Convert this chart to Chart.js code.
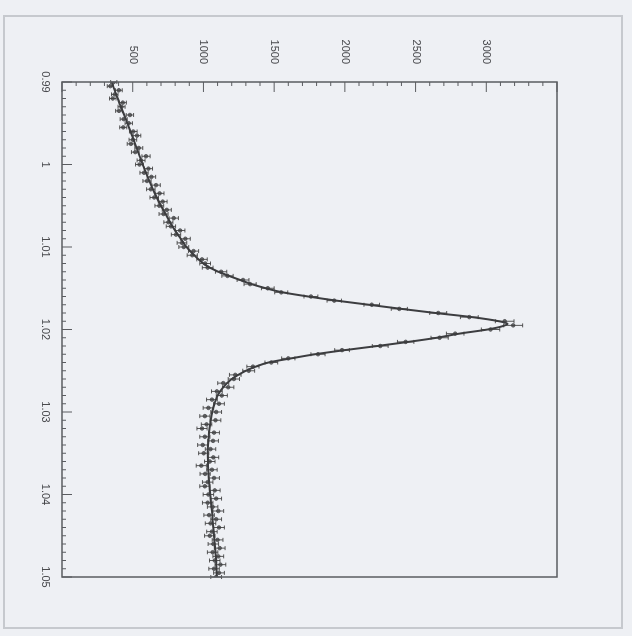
<!DOCTYPE html>
<html>
<head>
<meta charset="utf-8">
<script src="https://cdn.jsdelivr.net/npm/chart.js@4/dist/chart.umd.min.js"></script>
<style>
  html, body { margin: 0; padding: 0; background: #eef0f4; width: 632px; height: 636px; overflow: hidden; }
  #frame { position: absolute; left: 3px; top: 15px; width: 616px; height: 610px; border: 2px solid #c6c9ce; }
  #wrap { position: absolute; left: -2px; top: 2px; width: 636px; height: 632px; transform: rotate(90deg); transform-origin: 50% 50%; }
  canvas { display: block; }
</style>
</head>
<body>
<div id="frame"></div>
<div id="wrap"><canvas id="c" width="636" height="632"></canvas></div>
<script>
// measured points (x = parameter, y = counts), with error bars
const xVals = [
  0.9900,0.9905,0.9910,0.9915,0.9920,0.9925,0.9930,0.9935,0.9940,0.9945,
  0.9950,0.9955,0.9960,0.9965,0.9970,0.9975,0.9980,0.9985,0.9990,0.9995,
  1.0000,1.0005,1.0010,1.0015,1.0020,1.0025,1.0030,1.0035,1.0040,1.0045,
  1.0050,1.0055,1.0060,1.0065,1.0070,1.0075,1.0080,1.0085,1.0090,1.0095,
  1.0100,1.0105,1.0110,1.0115,1.0120,1.0125,1.0130,1.0135,1.0140,1.0145,
  1.0150,1.0155,1.0160,1.0165,1.0170,1.0175,1.0180,1.0185,1.0190,1.0195,
  1.0200,1.0205,1.0210,1.0215,1.0220,1.0225,1.0230,1.0235,1.0240,1.0245,
  1.0250,1.0255,1.0260,1.0265,1.0270,1.0275,1.0280,1.0285,1.0290,1.0295,
  1.0300,1.0305,1.0310,1.0315,1.0320,1.0325,1.0330,1.0335,1.0340,1.0345,
  1.0350,1.0355,1.0360,1.0365,1.0370,1.0375,1.0380,1.0385,1.0390,1.0395,
  1.0400,1.0405,1.0410,1.0415,1.0420,1.0425,1.0430,1.0435,1.0440,1.0445,
  1.0450,1.0455,1.0460,1.0465,1.0470,1.0475,1.0480,1.0485,1.0490,1.0495,
  1.0500
];
const yVals = [
  366,342,402,373,359,430,421,403,480,436,
  472,433,504,530,501,487,543,518,594,559,
  548,611,580,632,601,665,628,690,652,712,
  688,741,718,790,752,770,835,806,872,848,
  861,930,921,990,1012,1030,1125,1170,1280,1330,
  1455,1550,1760,1925,2190,2385,2660,2880,3130,3190,
  3030,2780,2670,2430,2250,1980,1810,1600,1480,1350,
  1320,1225,1215,1140,1175,1095,1130,1060,1110,1035,
  1090,1010,1085,1022,990,1075,1010,1068,995,1050,
  1002,1070,1045,985,1060,1012,1075,1030,1010,1080,
  1035,1090,1030,1065,1105,1040,1090,1050,1110,1060,
  1045,1100,1070,1115,1065,1105,1080,1120,1075,1110,
  1090
];
const yErr = [
  22,22,24,23,23,25,25,24,26,25,
  26,25,27,27,27,26,28,27,29,28,
  28,29,29,30,29,30,30,31,30,31,
  31,32,32,33,32,33,34,33,35,34,
  35,36,36,37,38,38,40,40,42,43,
  45,46,49,51,55,57,60,63,66,67,
  65,62,61,58,56,52,50,47,45,43,
  42,41,40,39,40,38,39,38,38,37,
  38,36,38,37,36,38,36,38,36,37,
  36,38,37,36,37,36,38,37,36,38,
  37,38,37,37,38,37,38,37,38,37,
  37,38,37,38,37,38,37,38,37,38,
  38
];
// fitted curve
const fitX = [
  0.990,0.991,0.992,0.993,0.994,0.995,0.996,0.997,0.998,0.999,
  1.000,1.001,1.002,1.003,1.004,1.005,1.006,1.007,1.008,1.009,
  1.010,1.011,1.012,1.0125,1.013,1.0135,1.014,1.0145,1.015,1.0155,
  1.016,1.0165,1.017,1.0175,1.018,1.0185,1.019,1.0193,1.0196,1.0200,
  1.0205,1.0210,1.0215,1.0220,1.0225,1.0230,1.0235,1.0240,1.0245,1.0250,
  1.0260,1.0270,1.0280,1.0290,1.0300,1.0310,1.0320,1.0330,1.0340,1.0350,
  1.0360,1.0370,1.0380,1.0390,1.0400,1.0410,1.0420,1.0430,1.0440,1.0450,
  1.0460,1.0470,1.0480,1.0490,1.0500
];
const fitY = [
  351,372,394,416,440,462,484,506,528,549,
  570,594,618,643,670,700,732,765,800,840,
  880,935,1000,1045,1105,1180,1260,1340,1440,1560,
  1740,1940,2170,2400,2640,2900,3090,3150,3115,3010,
  2810,2650,2450,2230,2000,1790,1620,1460,1370,1300,
  1200,1140,1100,1078,1062,1051,1043,1037,1033,1031,
  1032,1034,1038,1043,1048,1054,1060,1065,1070,1075,
  1080,1085,1090,1093,1095
];
const xTickLabels = ['0.99','1','1.01','1.02','1.03','1.04','1.05'];
const yTickLabels = ['', '500','1000','1500','2000','2500','3000',''];

const AXIS_COLOR = '#5a5c60';

const framePlugin = {
  id: 'framePlugin',
  afterDatasetsDraw(chart) {
    const ctx = chart.ctx;
    const xs = chart.scales.x, ys = chart.scales.y;
    const ds = chart.data.datasets[1].data;
    ctx.save();
    // error bars
    ctx.strokeStyle = 'rgba(60,60,60,0.85)';
    ctx.lineWidth = 1;
    ctx.beginPath();
    for (let i = 0; i < ds.length; i++) {
      const px = xs.getPixelForValue(ds[i].x);
      const p1 = ys.getPixelForValue(ds[i].y - yErr[i]);
      const p2 = ys.getPixelForValue(ds[i].y + yErr[i]);
      ctx.moveTo(px, p1); ctx.lineTo(px, p2);
      ctx.moveTo(px - 2, p1); ctx.lineTo(px + 2, p1);
      ctx.moveTo(px - 2, p2); ctx.lineTo(px + 2, p2);
    }
    ctx.stroke();
    // plot frame
    const a = chart.chartArea;
    ctx.strokeStyle = AXIS_COLOR;
    ctx.lineWidth = 1.5;
    ctx.strokeRect(a.left, a.top, a.right - a.left, a.bottom - a.top);
    // inward ticks on x axis (bottom)
    ctx.lineWidth = 1;
    ctx.beginPath();
    for (let i = 0; i <= 60; i++) {
      const px = xs.getPixelForValue(xs.min + (xs.max - xs.min) * i / 60);
      const len = (i % 10 === 0) ? 10 : 4;
      ctx.moveTo(px, a.bottom); ctx.lineTo(px, a.bottom - len);
    }
    // inward ticks on y axis (left)
    for (let i = 0; i <= 35; i++) {
      const py = ys.getPixelForValue(ys.min + (ys.max - ys.min) * i / 35);
      const len = (i % 5 === 0) ? 10 : 4;
      ctx.moveTo(a.left, py); ctx.lineTo(a.left + len, py);
    }
    ctx.stroke();
    ctx.restore();
  }
};

new Chart(document.getElementById('c'), {
  data: {
    datasets: [
      {
        type: 'line',
        data: fitX.map((x, i) => ({ x: x, y: fitY[i] })),
        borderColor: '#3c3d40',
        borderWidth: 2,
        pointRadius: 0,
        cubicInterpolationMode: 'monotone',
        fill: false,
        order: 0
      },
      {
        type: 'scatter',
        data: xVals.map((x, i) => ({ x: x, y: yVals[i] })),
        pointRadius: 1.8,
        pointBackgroundColor: '#6a6b6e',
        pointBorderColor: '#4a4b4e',
        pointBorderWidth: 0.8,
        order: 1
      }
    ]
  },
  options: {
    responsive: false,
    animation: false,
    devicePixelRatio: 1,
    layout: { padding: { top: 75, right: 59, left: 0, bottom: 0 } },
    plugins: { legend: { display: false }, tooltip: { enabled: false } },
    scales: {
      x: {
        type: 'linear',
        min: 0.99, max: 1.05,
        afterBuildTicks(s) { s.ticks = xTickLabels.map(v => ({ value: parseFloat(v) })); },
        afterFit(s) { s.height = 62; },
        grid: { display: false, drawTicks: false },
        border: { display: false },
        ticks: {
          padding: 10,
          maxRotation: 0,
          autoSkip: false,
          color: '#45464a',
          font: { family: 'Liberation Sans', size: 11 },
          callback: (v, i) => xTickLabels[i]
        }
      },
      y: {
        type: 'linear',
        min: 0, max: 3500,
        afterBuildTicks(s) { s.ticks = yTickLabels.map((t, i) => ({ value: i * 500 })); },
        afterFit(s) { s.width = 82; },
        grid: { display: false, drawTicks: false },
        border: { display: false },
        ticks: {
          padding: 18,
          autoSkip: false,
          color: '#45464a',
          font: { family: 'Liberation Sans', size: 11 },
          callback: (v, i) => yTickLabels[i]
        }
      }
    }
  },
  plugins: [framePlugin]
});
</script>
</body>
</html>
